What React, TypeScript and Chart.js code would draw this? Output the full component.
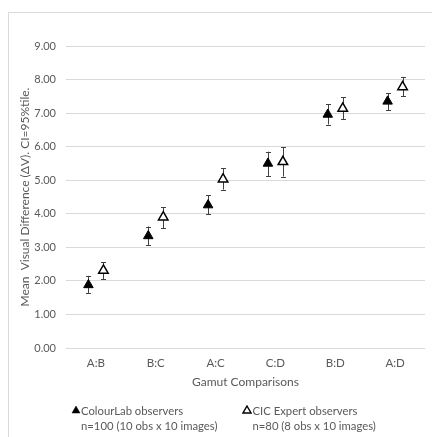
import React, { useEffect, useRef } from "react";
import { Chart, registerables } from "chart.js";

Chart.register(...registerables);

const categories = ["A:B", "B:C", "A:C", "C:D", "B:D", "A:D"];
const colourLabMean = [1.88, 3.34, 4.26, 5.5, 6.96, 7.35];
const colourLabLow = [1.64, 3.06, 3.98, 5.13, 6.66, 7.09];
const colourLabHigh = [2.15, 3.62, 4.55, 5.85, 7.26, 7.6];
const cicMean = [2.31, 3.9, 5.03, 5.55, 7.14, 7.78];
const cicLow = [2.05, 3.57, 4.72, 5.11, 6.81, 7.51];
const cicHigh = [2.55, 4.19, 5.35, 5.99, 7.48, 8.08];
const yTicks = [0, 1, 2, 3, 4, 5, 6, 7, 8, 9];

const FONT = "Lato, 'Open Sans', sans-serif";
const TEXT = "#595959";
const OFFSET = 0.125;

const errorBarPlugin = {
  id: "errorBars",
  beforeDatasetsDraw(chart: any) {
    const { ctx, scales } = chart;
    const x = scales.x;
    const y = scales.y;
    const sets = [
      { off: -OFFSET, lo: colourLabLow, hi: colourLabHigh },
      { off: OFFSET, lo: cicLow, hi: cicHigh },
    ];
    ctx.save();
    ctx.strokeStyle = "#404040";
    ctx.lineWidth = 1;
    sets.forEach((s) => {
      categories.forEach((_, i) => {
        const px = Math.round(x.getPixelForValue(i + s.off)) + 0.5;
        const yl = y.getPixelForValue(s.lo[i]);
        const yh = y.getPixelForValue(s.hi[i]);
        ctx.beginPath();
        ctx.moveTo(px, yl);
        ctx.lineTo(px, yh);
        ctx.moveTo(px - 2.5, Math.round(yl) + 0.5);
        ctx.lineTo(px + 2.5, Math.round(yl) + 0.5);
        ctx.moveTo(px - 2.5, Math.round(yh) + 0.5);
        ctx.lineTo(px + 2.5, Math.round(yh) + 0.5);
        ctx.stroke();
      });
    });
    ctx.restore();
  },
  afterDraw(chart: any) {
    const { ctx, chartArea } = chart;
    ctx.save();
    ctx.fillStyle = TEXT;
    ctx.font = `12px ${FONT}`;
    ctx.textAlign = "center";
    ctx.textBaseline = "middle";
    ctx.fillText("Gamut Comparisons", (chartArea.left + chartArea.right) / 2, 382);
    ctx.translate(25, (chartArea.top + chartArea.bottom) / 2);
    ctx.rotate(-Math.PI / 2);
    ctx.fillText("Mean  Visual Difference (\u0394V). CI=95%tile.", 0, 0);
    ctx.restore();
  },
};

function Tri({ filled }: { filled: boolean }) {
  return (
    <svg width="10" height="9" style={{ position: "absolute", left: 0, top: 3 }}>
      <polygon
        points="5,1 9,8 1,8"
        fill={filled ? "#000" : "#fff"}
        stroke="#000"
        strokeWidth={filled ? 0.5 : 1.4}
      />
    </svg>
  );
}

export default function App() {
  const ref = useRef<HTMLCanvasElement>(null);

  useEffect(() => {
    if (!ref.current) return;
    const chart = new Chart(ref.current, {
      type: "scatter",
      data: {
        datasets: [
          {
            label: "ColourLab observers",
            data: colourLabMean.map((v, i) => ({ x: i - OFFSET, y: v })),
            pointStyle: "triangle",
            pointRadius: 5.5,
            pointBackgroundColor: "#000",
            pointBorderColor: "#000",
            pointBorderWidth: 1,
            showLine: false,
          },
          {
            label: "CIC Expert observers",
            data: cicMean.map((v, i) => ({ x: i + OFFSET, y: v })),
            pointStyle: "triangle",
            pointRadius: 5.5,
            pointBackgroundColor: "#fff",
            pointBorderColor: "#000",
            pointBorderWidth: 1.5,
            showLine: false,
          },
        ],
      },
      options: {
        responsive: false,
        animation: false,
        layout: { padding: { top: 46, right: 5, left: 0, bottom: 0 } },
        plugins: { legend: { display: false }, tooltip: { enabled: false } },
        scales: {
          x: {
            type: "linear",
            min: -0.5,
            max: 5.5,
            grid: { display: false, drawTicks: false },
            border: { display: false },
            afterBuildTicks: (s: any) => {
              s.ticks = categories.map((_, i) => ({ value: i }));
            },
            afterFit: (s: any) => {
              s.height = 89;
            },
            ticks: {
              autoSkip: false,
              maxRotation: 0,
              padding: 8,
              color: TEXT,
              font: { family: FONT, size: 11.5 },
              callback: (v: any) => categories[Math.round(Number(v))] ?? "",
            },
          },
          y: {
            min: 0,
            max: 9,
            grid: { color: "#d9d9d9", lineWidth: 1, drawTicks: false },
            border: { display: false },
            afterBuildTicks: (s: any) => {
              s.ticks = yTicks.map((v) => ({ value: v }));
            },
            afterFit: (s: any) => {
              s.width = 66;
            },
            ticks: {
              padding: 10,
              color: TEXT,
              font: { family: FONT, size: 11 },
              callback: (v: any) => Number(v).toFixed(2),
            },
          },
        },
      },
      plugins: [errorBarPlugin],
    } as any);
    return () => chart.destroy();
  }, []);

  const legendText: React.CSSProperties = {
    position: "absolute",
    fontFamily: FONT,
    fontSize: 11.3,
    lineHeight: "15px",
    color: TEXT,
    whiteSpace: "nowrap",
  };

  return (
    <div>
      <div
        style={{
          position: "fixed",
          left: 8,
          top: 12,
          width: 430,
          height: 430,
          borderTop: "1px solid #d9d9d9",
          borderLeft: "1px solid #d9d9d9",
          background: "#fff",
        }}
      />
      <canvas
        ref={ref}
        width={432}
        height={437}
        style={{ position: "fixed", left: 0, top: 0, width: 432, height: 437 }}
      />
      <div style={{ position: "fixed", left: 71, top: 402, width: 10, height: 12 }}>
        <Tri filled={true} />
      </div>
      <div style={{ ...legendText, left: 81, top: 402.5 }}>
        ColourLab observers
        <br />
        n=100 (10 obs x 10 images)
      </div>
      <div style={{ position: "fixed", left: 242, top: 402, width: 10, height: 12 }}>
        <Tri filled={false} />
      </div>
      <div style={{ ...legendText, left: 252.5, top: 402.5 }}>
        CIC Expert observers
        <br />
        n=80 (8 obs x 10 images)
      </div>
    </div>
  );
}
